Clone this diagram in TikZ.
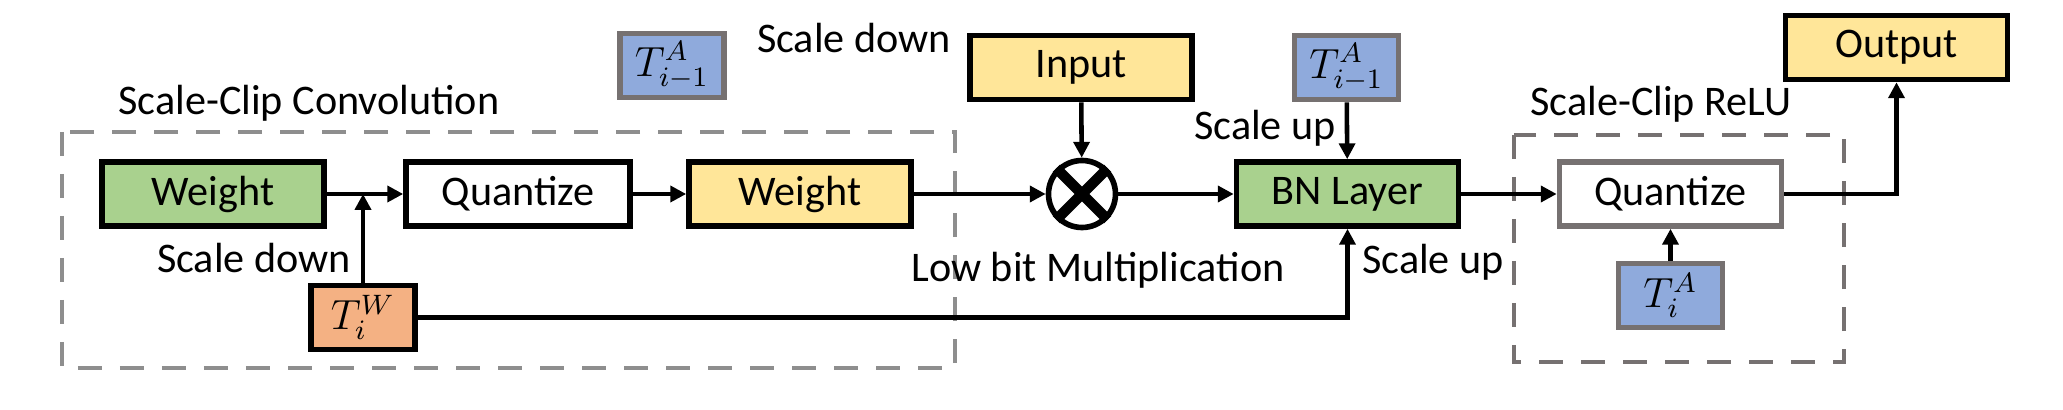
\documentclass[tikz,border=0pt]{standalone}
\usepackage{fontspec}
\setmainfont{Carlito}
\usepackage{amsmath}
\usetikzlibrary{arrows.meta}
\definecolor{wgreen}{HTML}{A9D18E}
\definecolor{wyellow}{HTML}{FFE699}
\definecolor{tblue}{HTML}{8FAADC}
\definecolor{torange}{HTML}{F4B183}
\definecolor{bordergray}{HTML}{767171}
\definecolor{dashgray}{HTML}{8E8E8E}

\begin{document}
\begin{tikzpicture}[
    font=\fontsize{12}{14}\selectfont,
    blk/.style={draw, line width=1.6pt, minimum width=2.22cm, minimum height=0.64cm, inner sep=0pt},
    thr/.style={draw=bordergray, line width=1.6pt, fill=tblue, minimum width=1.04cm, minimum height=0.64cm, inner sep=0pt},
    lbl/.style={inner sep=1pt},
    arrow/.style={-{Triangle[length=4.5pt,width=4.5pt]}, line width=1.3pt},
    group/.style={draw=dashgray, dash pattern=on 0.24cm off 0.18cm, line width=1.2pt}
]
\useasboundingbox (0,0) rectangle (20.63,-4.10);

% dashed groups
\draw[group] (0.62,-1.32) rectangle (9.55,-3.68);
\draw[group, draw=bordergray] (15.14,-1.35) rectangle (18.44,-3.62);
\node[lbl] (conv) at (3.09,-1.03) {Scale-Clip Convolution};
\node[lbl] (relu) at (16.61,-1.04) {Scale-Clip ReLU};

% blocks
\node[blk, fill=wgreen] (wg) at (2.13,-1.94) {Weight};
\node[blk, minimum width=2.24cm] (q1) at (5.18,-1.94) {Quantize};
\node[blk, fill=wyellow] (wy) at (8.00,-1.94) {Weight};
\node[blk, fill=torange, minimum width=1.04cm] (tw) at (3.63,-3.175) {$T_i^W$};
\node[thr] (ta0) at (6.72,-0.655) {$T_{i-1}^A$};
\node[blk, fill=wyellow] (in) at (10.81,-0.675) {Input};
\node[circle, draw, line width=1.6pt, minimum size=0.67cm, inner sep=0pt] (mul) at (10.82,-1.94) {};
\node[thr] (ta1) at (13.465,-0.675) {$T_{i-1}^A$};
\node[blk, fill=wgreen] (bn) at (13.475,-1.94) {BN Layer};
\node[blk, draw=bordergray] (q2) at (16.705,-1.94) {Quantize};
\node[thr] (ta) at (16.705,-2.955) {$T_i^A$};
\node[blk, fill=wyellow] (out) at (18.965,-0.475) {Output};

\draw[line width=3pt] (mul.45) -- (mul.225) (mul.135) -- (mul.315);

% labels
\node[lbl] (sd0) at (8.54,-0.38) {Scale down};
\node[lbl] (sd1) at (2.54,-2.58) {Scale down};
\node[lbl] (lbm) at (10.98,-2.70) {Low bit Multiplication};
\node[lbl] (su0) at (12.65,-1.28) {Scale up};
\node[lbl] (su1) at (14.33,-2.62) {Scale up};

% connectors
\coordinate (jn) at (tw.north |- wg.east);
\draw[arrow] (wg) -- (q1);
\draw[arrow] (tw) -- (jn);
\draw[arrow] (q1) -- (wy);
\draw[arrow] (wy) -- (mul);
\draw[arrow] (in) -- (mul);
\draw[arrow] (mul) -- (bn);
\draw[arrow] (ta1) -- (bn);
\draw[arrow] (tw.east) -| (bn.south);
\draw[arrow] (bn) -- (q2);
\draw[arrow] (ta) -- (q2);
\draw[arrow] (q2.east) -| (out.south);
\end{tikzpicture}
\end{document}
